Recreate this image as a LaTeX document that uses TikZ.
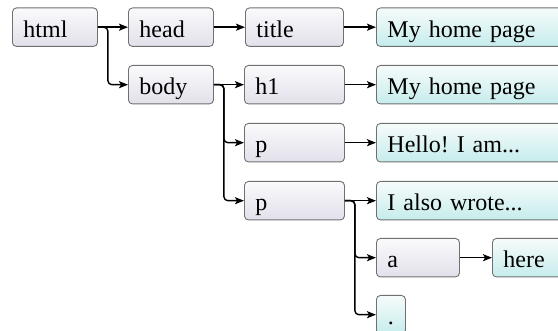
\documentclass[tikz,border=0pt]{standalone}
\usepackage{fontspec}
\setmainfont{Liberation Serif}
\usetikzlibrary{arrows.meta}
\definecolor{edgegray}{HTML}{707070}
\definecolor{graytop}{HTML}{FAFAFC}
\definecolor{graybot}{HTML}{E2E0EA}
\definecolor{cyantop}{HTML}{F6FBFB}
\definecolor{cyanbot}{HTML}{C6ECEC}
\tikzset{
  box/.style={draw=edgegray, line width=0.9pt, rounded corners=4pt, anchor=north west,
    inner xsep=11pt, inner ysep=0pt, text height=29.5pt, text depth=9pt,
    font=\fontsize{24}{28}\selectfont\frenchspacing, align=left},
  elem/.style={box, top color=graytop, bottom color=graybot, text width=#1},
  elem/.default=63pt,
  leaf/.style={box, top color=cyantop, bottom color=cyanbot, text width=200pt},
  dotleaf/.style={box, top color=cyantop, bottom color=cyanbot, inner xsep=0pt, minimum width=29pt, align=center},
  conn/.style={line width=1.4pt, -{Stealth[length=9pt,width=7pt,inset=2pt]}, rounded corners=4pt},
}
\begin{document}
\begin{tikzpicture}[x=1pt,y=-1pt]
\useasboundingbox (0,0) rectangle (558,331);
\clip (0,0) rectangle (558,331);
\node[elem] (html) at (12,7.5) {html};
\node[elem] (head) at (128,7.5) {head};
\node[elem=76pt] (title) at (245,7.5) {title};
\node[leaf] (t1) at (376,7.5) {My home page};
\node[elem] (body) at (128,65) {body};
\node[elem=78pt] (h1) at (244,65) {h1};
\node[leaf] (t2) at (376,65) {My home page};
\node[elem=78pt] (p1) at (244,123) {p};
\node[leaf] (t3) at (376,123) {Hello! I am...};
\node[elem=78pt] (p2) at (244,181) {p};
\node[leaf] (t4) at (376,181) {I also wrote...};
\node[elem=61pt] (a) at (376,238) {a};
\node[leaf] (t5) at (492,238) {here};
\node[dotleaf] (dot) at (376,295) {.};
\draw[conn] (html.east) -- (head.west);
\draw[conn] (html.east) -- ++(10,0) |- (body.west);
\draw[conn] (head.east) -- (title.west);
\draw[conn] (title.east) -- (t1.west);
\draw[conn] (body.east) -- (h1.west);
\draw[conn] (body.east) -- ++(10,0) |- (p1.west);
\draw[conn] (body.east) -- ++(10,0) |- (p2.west);
\draw[conn] (h1.east) -- (t2.west);
\draw[conn] (p1.east) -- (t3.west);
\draw[conn] (p2.east) -- (t4.west);
\draw[conn] (p2.east) -- ++(10,0) |- (a.west);
\draw[conn] (p2.east) -- ++(10,0) |- (dot.west);
\draw[conn] (a.east) -- (t5.west);
\end{tikzpicture}
\end{document}
